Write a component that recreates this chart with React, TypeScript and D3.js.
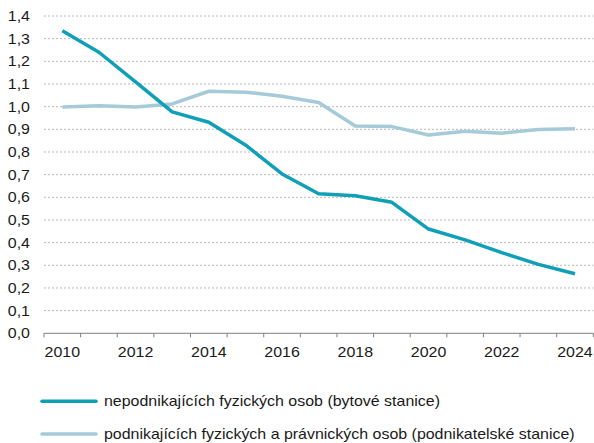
import React, { useEffect, useRef } from 'react';
import * as d3 from 'd3';

const years = d3.range(2010, 2025).map(String);
const yTicks = [0, 0.1, 0.2, 0.3, 0.4, 0.5, 0.6, 0.7, 0.8, 0.9, 1.0, 1.1, 1.2, 1.3, 1.4];

const seriesNames = [
  'nepodnikajících fyzických osob (bytové stanice)',
  'podnikajících fyzických a právnických osob (podnikatelské stanice)',
];
const householdValues = [1.335, 1.24, 1.109, 0.977, 0.931, 0.831, 0.703, 0.616, 0.607, 0.578, 0.46, 0.412, 0.356, 0.304, 0.263];
const businessValues = [0.999, 1.004, 0.999, 1.012, 1.068, 1.064, 1.046, 1.018, 0.915, 0.912, 0.875, 0.891, 0.883, 0.899, 0.903];
const seriesColors = ['#0f9fb6', '#a4cbd7'];

const App = () => {
  const svgRef = useRef<SVGSVGElement>(null);

  useEffect(() => {
    const svg = d3.select(svgRef.current);
    svg.selectAll('*').remove();

    const left = 44;
    const right = 593.3;
    const top = 16;
    const bottom = 333.3;
    const font = 'Arial, "Liberation Sans", sans-serif';
    const sx = 1.14; // text in the picture is a bit wider than normal

    const x = d3.scaleBand().domain(years).range([left, right]);
    const y = d3.scaleLinear().domain([0, 1.4]).range([bottom, top]);

    const label = (g, tx, ty, anchor, str) =>
      g.append('text')
        .attr('transform', `translate(${tx},${ty}) scale(${sx},1)`)
        .attr('dy', '0.35em')
        .attr('text-anchor', anchor)
        .style('font-family', font)
        .style('font-size', '14px')
        .attr('fill', '#1a1a1a')
        .text(str);

    // grid
    svg.append('g')
      .selectAll('line')
      .data(yTicks.slice(1))
      .enter()
      .append('line')
      .attr('x1', left)
      .attr('x2', right)
      .attr('y1', (d) => y(d))
      .attr('y2', (d) => y(d))
      .attr('stroke', '#b8b8b8')
      .attr('stroke-width', 1)
      .attr('stroke-dasharray', '2,2');

    // y labels
    const yg = svg.append('g');
    yTicks.forEach((d) => label(yg, 30, y(d), 'end', d3.format('.1f')(d).replace('.', ',')));

    // x axis
    const xAxis = svg.append('g');
    xAxis.append('line')
      .attr('x1', left)
      .attr('x2', right)
      .attr('y1', bottom)
      .attr('y2', bottom)
      .attr('stroke', '#7f7f7f')
      .attr('stroke-width', 1);
    xAxis.selectAll('.tick')
      .data([...years.map((yr) => x(yr)!), right])
      .enter()
      .append('line')
      .attr('x1', (d) => d)
      .attr('x2', (d) => d)
      .attr('y1', bottom)
      .attr('y2', bottom + 4)
      .attr('stroke', '#7f7f7f');
    years
      .filter((yr, i) => i % 2 === 0)
      .forEach((yr) => label(xAxis, x(yr)! + x.bandwidth() / 2, 352, 'middle', yr));

    const line = d3.line<number>()
      .x((d, i) => x(years[i])! + x.bandwidth() / 2)
      .y((d) => y(d));

    [businessValues, householdValues].forEach((vals, k) => {
      svg.append('path')
        .datum(vals)
        .attr('d', line)
        .attr('fill', 'none')
        .attr('stroke', k === 0 ? seriesColors[1] : seriesColors[0])
        .attr('stroke-width', 3.5)
        .attr('stroke-linejoin', 'round');
    });

    // legend
    const legendY = [401.3, 434];
    const lg = svg.append('g');
    seriesNames.forEach((name, i) => {
      lg.append('line')
        .attr('x1', 42)
        .attr('x2', 96)
        .attr('y1', legendY[i])
        .attr('y2', legendY[i])
        .attr('stroke', seriesColors[i])
        .attr('stroke-width', 3.5)
        .attr('stroke-linecap', 'round');
      label(lg, 104, legendY[i], 'start', name);
    });
  }, []);

  return (
    <svg
      ref={svgRef}
      width={594}
      height={443}
      style={{ position: 'absolute', left: 0, top: 0, background: '#fff' }}
    />
  );
};

export default App;
